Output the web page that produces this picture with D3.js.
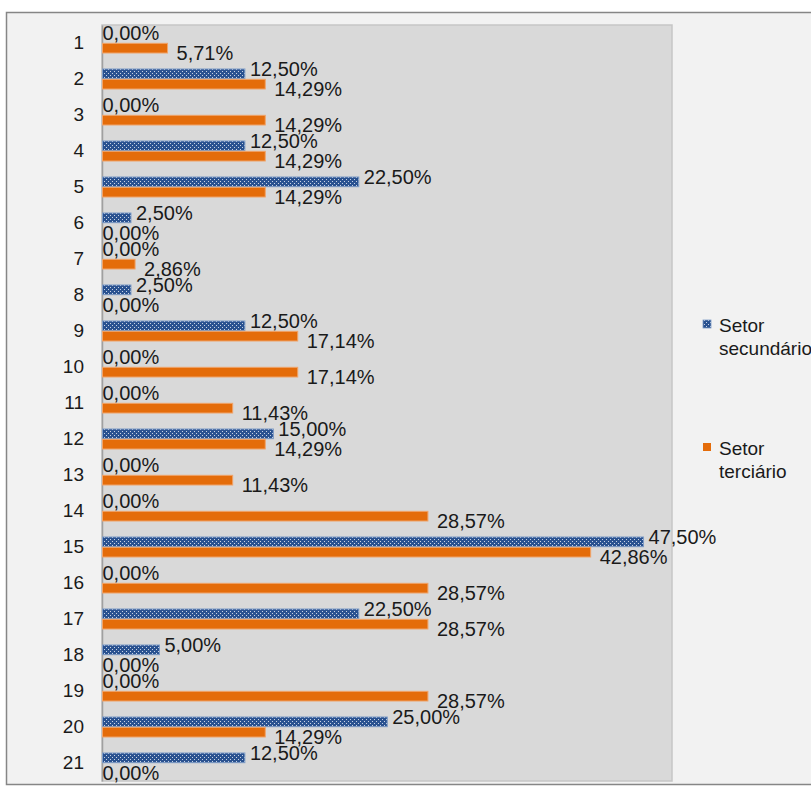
<!DOCTYPE html>
<html>
<head>
<meta charset="utf-8">
<script src="https://cdn.jsdelivr.net/npm/d3@7/dist/d3.min.js"></script>
<style>
  html, body { margin: 0; padding: 0; background: #ffffff; }
  svg { display: block; }
  text { font-family: "Liberation Sans", Arial, sans-serif; fill: #1a1a1a; }
</style>
</head>
<body>
<svg id="chart" width="811" height="787"></svg>
<script>
// Share of companies per item, by sector (%)
const categories = ["1","2","3","4","5","6","7","8","9","10","11","12","13","14","15","16","17","18","19","20","21"];
const setorSecundario = [0, 12.5, 0, 12.5, 22.5, 2.5, 0, 2.5, 12.5, 0, 0, 15, 0, 0, 47.5, 0, 22.5, 5, 0, 25, 12.5];
const setorTerciario = [5.71, 14.29, 14.29, 14.29, 14.29, 0, 2.86, 0, 17.14, 17.14, 11.43, 14.29, 11.43, 28.57, 42.86, 28.57, 28.57, 0, 28.57, 14.29, 0];
const seriesNames = ["Setor secundário", "Setor terciário"];
const xDomain = [0, 50];

const svg = d3.select("#chart");

// pattern fill for the secondary sector bars (dark blue with light dots)
const defs = svg.append("defs");
const pat = defs.append("pattern")
  .attr("id", "dots")
  .attr("patternUnits", "userSpaceOnUse")
  .attr("width", 4).attr("height", 4);
pat.append("rect").attr("width", 4).attr("height", 4).attr("fill", "#2a5290");
pat.append("rect").attr("x", 0).attr("y", 0).attr("width", 1).attr("height", 1).attr("fill", "#c8d4e6");
pat.append("rect").attr("x", 2).attr("y", 2).attr("width", 1).attr("height", 1).attr("fill", "#c8d4e6");

// outer chart frame
svg.append("rect")
  .attr("x", 6.5).attr("y", 12.5)
  .attr("width", 830).attr("height", 772)
  .attr("fill", "#f2f2f2")
  .attr("stroke", "#868686")
  .attr("stroke-width", 1.5);

const plot = { left: 102, right: 672, top: 25, bottom: 781 };

const x = d3.scaleLinear().domain(xDomain).range([plot.left + 0.5, plot.right]);
const y = d3.scaleBand()
  .domain(categories)
  .range([plot.top, plot.bottom])
  .paddingInner(0.444)
  .paddingOuter(0.222);
const ySub = d3.scaleBand()
  .domain(seriesNames)
  .range([0, y.bandwidth()])
  .paddingInner(0.06);

// plot area
svg.append("rect")
  .attr("x", plot.left).attr("y", plot.top)
  .attr("width", plot.right - plot.left).attr("height", plot.bottom - plot.top)
  .attr("fill", "#d9d9d9")
  .attr("stroke", "#c6c6c6")
  .attr("stroke-width", 1.5);

// category axis
const yAxis = d3.axisLeft(y).tickSize(0).tickPadding(18);
const gAxis = svg.append("g")
  .attr("transform", `translate(${plot.left},0)`)
  .call(yAxis);
gAxis.select(".domain").attr("stroke", "#a0a0a0").attr("stroke-width", 1.5);
gAxis.selectAll("text")
  .style("font-size", "19px")
  .style("font-family", "'Liberation Sans', Arial, sans-serif")
  .attr("fill", "#1a1a1a");

const rows = categories.map((c, i) => ({
  cat: c,
  values: [
    { series: seriesNames[0], v: setorSecundario[i] },
    { series: seriesNames[1], v: setorTerciario[i] }
  ]
}));

const fills = { [seriesNames[0]]: "url(#dots)", [seriesNames[1]]: "#e46c0a" };
const strokes = { [seriesNames[0]]: "#7e9cc6", [seriesNames[1]]: "#f0a46a" };

const groups = svg.append("g").selectAll("g")
  .data(rows)
  .join("g")
  .attr("transform", d => `translate(0,${y(d.cat)})`);

groups.selectAll("rect")
  .data(d => d.values.filter(e => e.v > 0))
  .join("rect")
  .attr("x", x(0))
  .attr("y", d => ySub(d.series))
  .attr("width", d => x(d.v) - x(0))
  .attr("height", ySub.bandwidth())
  .attr("fill", d => fills[d.series])
  .attr("stroke", d => strokes[d.series])
  .attr("stroke-width", 1);

// value labels: secondary sector nudged up, tertiary nudged down
const fmt = v => v.toFixed(2).replace(".", ",") + "%";
groups.selectAll("text.val")
  .data(d => d.values)
  .join("text")
  .attr("class", "val")
  .attr("x", d => x(d.v) + (d.v > 0 ? (d.series === seriesNames[0] ? 5 : 9) : 0))
  .attr("y", d => ySub(d.series) + ySub.bandwidth() / 2 + (d.series === seriesNames[0] ? -5 : 5))
  .attr("dy", "0.35em")
  .style("font-size", "20px")
  .text(d => fmt(d.v));

// legend
const legend = svg.append("g");
const legendItems = [
  { name: seriesNames[0], lines: ["Setor", "secundário"], y: 325 },
  { name: seriesNames[1], lines: ["Setor", "terciário"], y: 448 }
];
legendItems.forEach(it => {
  legend.append("rect")
    .attr("x", 703).attr("y", it.y - 5)
    .attr("width", 8).attr("height", 8)
    .attr("fill", fills[it.name])
    .attr("stroke", it.name === seriesNames[0] ? strokes[it.name] : "none")
    .attr("stroke-width", 0.8);
  it.lines.forEach((ln, k) => {
    legend.append("text")
      .attr("x", 719)
      .attr("y", it.y + k * 23)
      .attr("dy", "0.35em")
      .style("font-size", "19px")
      .text(ln);
  });
});
</script>
</body>
</html>
